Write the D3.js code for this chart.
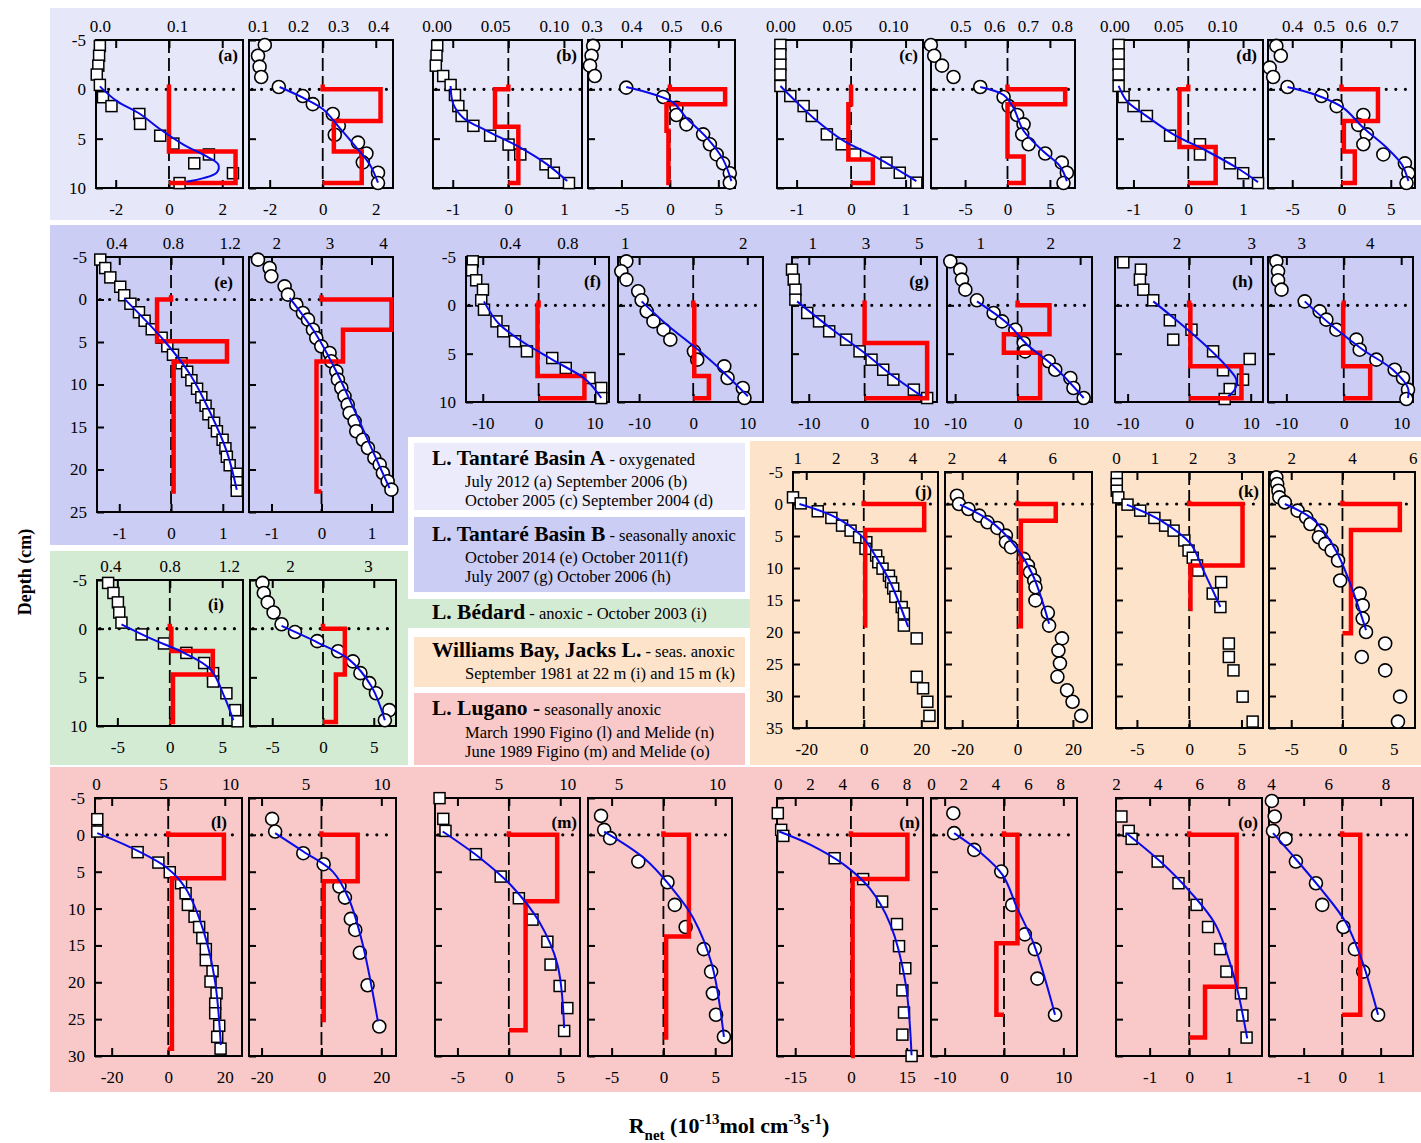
<!DOCTYPE html>
<html lang="en">
<head>
<meta charset="utf-8" />
<title>Rnet depth profiles</title>
<script src="https://cdn.jsdelivr.net/npm/d3@7"></script>
<style>
body{margin:0;background:#fff;}
</style>
</head>
<body>
<script>
// each half panel: ax = [concDomain, concLabels, rnetDomain, rnetLabels]
// pts/fit = [conc, depth], rnet = [zTop, zBottom, value]
var aL_ax = [[-0.005,0.185],["0.0","0.1"],[-2.74,2.78],["-2","0","2"]];
var aL_pts = [[0,-4.4],[-0.001,-3.4],[-0.002,-2.4],[-0.004,-1.5],[0,-0.45],[0.004,0.8],[0.015,1.7],[0.051,2.5],[0.052,3.5],[0.078,4.7],[0.095,5.5],[0.141,6.6],[0.122,7.5],[0.172,8.5],[0.103,9.5]];
var aL_fit = [[0,-0.3],[0.022,1.2],[0.052,2.5],[0.078,4.05],[0.108,5.6],[0.138,6.8],[0.153,7.6],[0.151,8.45],[0.134,9.0],[0.112,9.36]];
var aL_rnet = [[0,6.3,0],[6.3,9.5,2.5]];
var aR_ax = [[0.0775,0.4375],["0.1","0.2","0.3","0.4"],[-2.78,2.65],["-2","0","2"]];
var aR_pts = [[0.117,-4.5],[0.1,-3.4],[0.104,-2.3],[0.108,-1.25],[0.152,-0.24],[0.212,0.68],[0.237,1.5],[0.287,2.5],[0.302,3.7],[0.292,4.6],[0.35,5.4],[0.371,6.5],[0.362,7.4],[0.4,8.45],[0.4,9.5]];
var aR_fit = [[0.154,-0.24],[0.212,0.84],[0.262,2.0],[0.304,3.9],[0.346,5.9],[0.379,7.6],[0.4,9.46]];
var aR_rnet = [[0,3.2,2.18],[3.2,6.3,0.42],[6.3,9.5,1.47]];

var bL_ax = [[-0.003,0.124],["0.00","0.05","0.10"],[-1.355,1.325],["-1","0","1"]];
var bL_pts = [[0.0006,-4.4],[0,-3.4],[-0.0006,-2.4],[0.0057,-1.35],[0.012,-0.44],[0.0157,0.57],[0.0186,1.7],[0.0214,2.7],[0.0314,3.7],[0.0457,4.7],[0.0614,5.6],[0.0714,6.6],[0.0929,7.6],[0.1,8.45],[0.1129,9.5]];
var bL_fit = [[0.012,-0.34],[0.0143,1.5],[0.0229,2.9],[0.0429,4.2],[0.0714,5.9],[0.0943,7.6],[0.1114,9.3]];
var bL_rnet = [[0,3.8,-0.24],[3.8,9.5,0.18]];
var bR_ax = [[0.291,0.66],["0.3","0.4","0.5","0.6"],[-8.45,6.72],["-5","0","5"]];
var bR_pts = [[0.304,-4.4],[0.3,-3.4],[0.296,-2.4],[0.308,-1.35],[0.387,-0.17],[0.48,0.78],[0.513,1.86],[0.513,2.6],[0.538,3.55],[0.58,4.56],[0.597,5.57],[0.614,6.6],[0.63,7.5],[0.647,8.5],[0.647,9.46]];
var bR_fit = [[0.387,-0.24],[0.455,0.5],[0.505,1.35],[0.538,2.9],[0.589,4.9],[0.63,7.1],[0.651,9.3]];
var bR_rnet = [[0,1.5,5.7],[1.5,4.2,-0.35],[4.2,9.5,-0.15]];

var cL_ax = [[-0.003,0.1265],["0.00","0.05","0.10"],[-1.36,1.32],["-1","0","1"]];
var cL_pts = [[0,-4.5],[0,-3.55],[0,-2.5],[0,-1.5],[0,-0.34],[0.0088,0.68],[0.0206,1.7],[0.0279,2.7],[0.0412,4.56],[0.0544,5.57],[0.0662,6.6],[0.0941,7.43],[0.1059,8.45],[0.1206,9.46]];
var cL_fit = [[0,-0.34],[0.0118,1.0],[0.0294,2.9],[0.0559,5.2],[0.0853,6.9],[0.1206,9.3]];
var cL_rnet = [[0,1.5,0],[1.5,7.1,-0.05],[7.1,9.5,0.4]];
var cR_ax = [[0.4135,0.839],["0.5","0.6","0.7","0.8"],[-9.02,7.96],["-5","0","5"]];
var cR_pts = [[0.413,-4.5],[0.423,-3.4],[0.446,-2.4],[0.48,-1.25],[0.559,-0.24],[0.628,0.78],[0.643,1.7],[0.668,2.6],[0.687,3.55],[0.683,4.56],[0.702,5.57],[0.751,6.5],[0.8,7.43],[0.815,8.45],[0.805,9.5]];
var cR_fit = [[0.559,-0.24],[0.628,0.57],[0.657,1.86],[0.687,4.2],[0.746,6.3],[0.795,7.8],[0.815,9.3]];
var cR_rnet = [[0,1.5,6.8],[1.5,6.8,0],[6.8,9.5,1.9]];

var dL_ax = [[0.0025,0.1378],["0.00","0.05","0.10"],[-1.30,1.364],["-1","0","1"]];
var dL_pts = [[0.004,-4.5],[0.004,-3.55],[0.004,-2.5],[0.004,-1.5],[0.004,-0.34],[0.0086,0.78],[0.0178,1.7],[0.0302,2.7],[0.0517,4.7],[0.0794,5.57],[0.0794,6.6],[0.1071,7.5],[0.1194,8.5],[0.1332,9.5]];
var dL_fit = [[0.004,-0.34],[0.0117,1.2],[0.0271,2.5],[0.0548,4.56],[0.0857,6.25],[0.1135,7.95],[0.1332,9.4]];
var dL_rnet = [[0,5.85,-0.16],[5.85,9.5,0.5]];
var dR_ax = [[0.3237,0.7868],["0.4","0.5","0.6","0.7"],[-7.46,7.46],["-5","0","5"]];
var dR_pts = [[0.35,-4.4],[0.364,-3.4],[0.329,-2.2],[0.34,-1.25],[0.385,-0.24],[0.492,0.68],[0.54,1.7],[0.624,2.6],[0.608,3.6],[0.635,4.56],[0.624,5.57],[0.687,6.6],[0.755,7.5],[0.766,8.5],[0.76,9.5]];
var dR_fit = [[0.385,-0.24],[0.476,0.57],[0.56,1.86],[0.624,3.9],[0.697,5.9],[0.745,7.6],[0.766,9.3]];
var dR_rnet = [[0,3.2,3.7],[3.2,6.3,0.24],[6.3,9.5,1.35]];

var eL_ax = [[0.264,1.294],["0.4","0.8","1.2"],[-1.43,1.39],["-1","0","1"]];
var eL_pts = [[0.287,-4.7],[0.322,-3.7],[0.358,-2.6],[0.428,-1.5],[0.456,-0.5],[0.5,0.5],[0.56,1.5],[0.6,2.5],[0.65,3.5],[0.72,4.5],[0.76,5.5],[0.8,6.5],[0.86,7.5],[0.9,8.5],[0.93,9.5],[0.97,10.5],[1.0,11.5],[1.03,12.5],[1.05,13.5],[1.09,14.5],[1.11,15.5],[1.15,16.5],[1.17,17.5],[1.18,18.5],[1.2,19.5],[1.25,20.5],[1.25,21.5],[1.25,22.5]];
var eL_fit = [[0.456,-0.1],[0.746,5],[0.92,8.8],[1.06,13.2],[1.18,17.9],[1.25,22.4]];
var eL_rnet = [[0,4.9,-0.27],[4.9,7.3,1.08],[7.3,22.6,0.05]];
var eR_ax = [[1.4875,4.19],["2","3","4"],[-1.45,1.43],["-1","0","1"]];
var eR_pts = [[1.656,-4.69],[1.875,-3.71],[1.906,-2.73],[2.156,-1.55],[2.219,-0.57],[2.375,0.61],[2.5,1.59],[2.594,2.37],[2.6875,3.55],[2.75,4.53],[2.844,5.51],[3.0,6.29],[3.03,7.27],[3.125,8.45],[3.156,9.43],[3.22,10.41],[3.28,11.39],[3.34,12.37],[3.375,13.35],[3.47,14.33],[3.5,15.5],[3.625,16.5],[3.72,17.47],[3.84,18.65],[3.94,19.43],[4.0,20.41],[4.09,21.39],[4.16,22.37]];
var eR_fit = [[2.25,-0.18],[2.75,4.14],[3.125,8.45],[3.5,13.5],[3.84,18.25],[4.125,22.2]];
var eR_rnet = [[0,3.55,1.4],[3.55,7.3,0.43],[7.3,22.6,-0.1]];

var fL_ax = [[0.094,1.089],["0.4","0.8"],[-13.0,12.6],["-10","0","10"]];
var fL_pts = [[0.141,-4.55],[0.136,-3.62],[0.165,-2.59],[0.212,-1.62],[0.2,-0.52],[0.219,0.45],[0.306,1.66],[0.353,2.69],[0.435,3.72],[0.518,4.76],[0.694,5.45],[0.788,6.48],[0.953,7.52],[1.035,8.55],[1.035,9.59]];
var fL_fit = [[0.219,-0.41],[0.318,1.83],[0.482,3.72],[0.694,5.62],[0.929,7.69],[1.035,9.59]];
var fL_rnet = [[0,7.3,-0.2],[7.3,9.6,8.2]];
var fR_ax = [[0.943,2.171],["1","2"],[-13.9,12.9],["-10","0","10"]];
var fR_pts = [[1.014,-4.55],[0.971,-3.52],[1.014,-2.66],[1.114,-1.45],[1.143,-0.52],[1.186,0.62],[1.243,1.66],[1.329,2.52],[1.386,3.55],[1.586,4.76],[1.614,5.62],[1.843,6.31],[1.871,7.52],[2.0,8.55],[2.014,9.59]];
var fR_fit = [[1.143,-0.41],[1.357,2.0],[1.586,4.24],[1.814,6.66],[2.043,9.41]];
var fR_rnet = [[0,7.3,0.2],[7.3,9.6,2.9]];

var gL_ax = [[0.244,5.69],["1","3","5"],[-13.0,12.97],["-10","0","10"]];
var gL_pts = [[0.244,-3.69],[0.308,-2.66],[0.371,-1.62],[0.371,-0.59],[0.816,0.79],[1.26,1.66],[1.64,2.69],[2.276,3.55],[2.78,4.76],[3.23,5.62],[3.67,6.66],[4.05,7.69],[4.82,8.72],[5.32,9.59]];
var gL_fit = [[0.435,-0.41],[1.77,2.52],[2.97,4.93],[4.05,7.34],[5.13,9.41]];
var gL_rnet = [[0,3.9,0],[3.9,9.6,11.2]];
var gR_ax = [[0.524,2.595],["1","2"],[-11.3,11.9],["-10","0","10"]];
var gR_pts = [[0.571,-4.55],[0.714,-3.69],[0.738,-2.66],[0.786,-1.62],[0.952,-0.52],[1.19,0.79],[1.31,1.66],[1.5,2.52],[1.62,3.9],[1.64,4.76],[1.976,5.79],[2.07,6.66],[2.286,7.52],[2.33,8.55],[2.476,9.59]];
var gR_fit = [[0.952,-0.41],[1.38,1.83],[1.67,4.07],[2.05,6.31],[2.476,9.59]];
var gR_rnet = [[0,3.0,5.1],[3.0,4.9,-2.2],[4.9,9.6,3.6]];

var hL_ax = [[1.178,3.156],["2","3"],[-12.05,12.0],["-10","0","10"]];
var hL_pts = [[1.289,-4.45],[1.524,-3.69],[1.511,-2.66],[1.556,-1.62],[1.689,-0.52],[1.911,1.55],[2.2,2.52],[1.956,3.55],[2.489,4.76],[2.978,5.55],[2.622,6.72],[2.889,7.69],[2.711,8.66],[2.644,9.69]];
var hL_fit = [[1.689,-0.41],[2.044,1.83],[2.4,4.24],[2.667,6.31],[2.8,7.69],[2.778,8.72],[2.689,9.41]];
var hL_rnet = [[0,6.3,0.2],[6.3,9.6,8.5]];
var hR_ax = [[2.512,4.634],["3","4"],[-13.2,12.06],["-10","0","10"]];
var hR_pts = [[2.634,-4.55],[2.659,-3.52],[2.659,-2.59],[2.71,-1.62],[3.049,-0.41],[3.268,0.62],[3.366,1.48],[3.512,2.52],[3.805,3.55],[3.854,4.59],[4.098,5.62],[4.366,6.66],[4.488,7.52],[4.561,8.72],[4.537,9.69]];
var hR_fit = [[3.049,-0.41],[3.46,2.17],[3.9,4.59],[4.34,6.66],[4.56,8.55],[4.56,9.59]];
var hR_rnet = [[0,6.3,-0.1],[6.3,9.6,4.6]];

var iL_ax = [[0.31,1.295],["0.4","0.8","1.2"],[-6.94,6.98],["-5","0","5"]];
var iL_pts = [[0.385,-4.7],[0.421,-3.67],[0.451,-2.7],[0.46,-1.66],[0.475,-0.62],[0.611,0.59],[0.762,1.52],[0.913,2.49],[1.033,3.53],[1.093,4.57],[1.093,5.43],[1.183,6.64],[1.243,8.37],[1.258,9.52]];
var iL_fit = [[0.475,-0.45],[0.686,1.1],[0.897,2.49],[1.078,4.22],[1.169,6.99],[1.23,9.41]];
var iL_rnet = [[0,2.3,0.15],[2.3,4.7,4.1],[4.7,9.6,0.3]];
var iR_ax = [[1.486,3.36],["2","3"],[-7.19,7.19],["-5","0","5"]];
var iR_pts = [[1.646,-4.7],[1.663,-3.67],[1.714,-2.7],[1.789,-1.66],[1.891,-0.45],[2.063,0.35],[2.349,1.28],[2.617,2.32],[2.806,3.36],[2.903,4.57],[3.017,5.6],[3.103,6.64],[3.274,8.37],[3.217,9.41]];
var iR_fit = [[1.891,-0.28],[2.36,1.45],[2.76,3.18],[3.046,5.95],[3.217,9.41]];
var iR_rnet = [[0,4.7,2.15],[4.7,9.6,1.27]];

var jL_ax = [[0.889,4.667],["1","2","3","4"],[-24.6,25.8],["-20","0","20"]];
var jL_pts = [[0.889,-1.04],[1.089,-0.1],[1.533,1.14],[1.889,2.18],[2.167,3.38],[2.389,4.16],[2.611,5.19],[2.8,5.97],[2.778,7.0],[3.056,8.05],[3.111,9.1],[3.222,10.1],[3.389,11.2],[3.444,12.2],[3.5,13.2],[3.556,14.5],[3.722,16.1],[3.778,17.1],[3.778,19.0],[4.111,21.0],[4.111,27.0],[4.278,28.8],[4.389,30.9],[4.444,33.1]];
var jL_fit = [[1.056,0],[2.0,2.08],[2.667,4.94],[3.056,8.3],[3.444,12.5],[3.889,19.2]];
var jL_rnet = [[0,4.05,21],[4.05,19,0.5]];
var jR_ax = [[1.747,7.57],["2","4","6"],[-26.2,26.9],["-20","0","20"]];
var jR_pts = [[2.22,-1.3],[2.3,0],[2.675,0.78],[3.1,1.82],[3.43,2.86],[3.82,3.74],[4.16,4.94],[4.16,5.97],[4.36,6.75],[4.86,8.57],[5.03,9.6],[5.11,10.65],[5.28,11.95],[5.33,13.0],[5.33,15.06],[5.82,17.0],[5.87,19.0],[6.38,21.0],[6.24,22.9],[6.3,24.9],[6.2,27.0],[6.58,29.1],[6.8,30.9],[7.14,33.1]];
var jR_fit = [[2.34,0.1],[3.52,2.6],[4.45,6.2],[5.2,10.9],[5.87,18.7]];
var jR_rnet = [[0,2.6,13.8],[2.6,19.1,1.2]];

var kL_ax = [[0,3.83],["0","1","2","3"],[-7.0,7.06],["-5","0","5"]];
var kL_pts = [[0.02,-4.16],[0.02,-3.12],[0.02,-2.08],[0.06,-1.04],[0.3,0.1],[0.63,1.04],[1.0,2.18],[1.28,3.38],[1.5,4.16],[1.78,5.7],[1.89,7.27],[2.0,8.4],[2.11,9.6],[2.14,10.4],[2.74,12.2],[2.52,14.0],[2.72,16.1],[2.94,21.8],[2.94,23.9],[3.06,26.0],[3.3,30.1],[3.56,34.0]];
var kL_fit = [[0.28,0.1],[1.17,2.6],[1.94,6.2],[2.28,10.4],[2.72,16.1]];
var kL_rnet = [[0,9.6,5.1],[9.6,16.4,0.12]];
var kR_ax = [[1.27,6.07],["2","4","6"],[-7.17,7.08],["-5","0","5"]];
var kR_pts = [[1.51,-4.16],[1.54,-3.12],[1.58,-2.08],[1.61,-1.04],[1.79,-0.26],[2.21,1.04],[2.49,2.08],[2.63,3.12],[2.98,4.16],[2.91,5.19],[3.12,6.23],[3.33,7.27],[3.54,8.83],[3.61,11.95],[4.25,14.0],[4.35,15.84],[4.35,17.9],[4.46,20.0],[5.09,21.8],[4.32,23.9],[5.09,26.0],[5.58,30.1],[5.51,34.0]];
var kR_fit = [[1.79,0],[2.77,2.6],[3.47,7.27],[3.9,11.95],[4.46,19.7]];
var kR_rnet = [[0,4.05,5.6],[4.05,20.2,0.83]];

var lL_ax = [[-0.07,10.9],["0","5","10"],[-25.9,26.1],["-20","0","20"]];
var lL_pts = [[0.1,-2.13],[0.1,-0.45],[3.11,2.35],[4.66,3.76],[5.51,5.07],[6.35,6.56],[6.69,7.92],[6.86,9.5],[7.36,11.1],[7.7,12.5],[7.94,14.0],[8.2,15.5],[8.2,17.0],[8.7,18.5],[8.55,19.9],[9.0,21.5],[8.9,22.9],[8.9,24.2],[9.2,25.9],[9.05,27.4],[9.3,29.0]];
var lL_fit = [[0.1,-0.23],[2.97,2.04],[5.34,4.52],[6.69,7.24],[8.04,13.1],[8.89,19.9],[9.32,28.5]];
var lL_rnet = [[0,5.9,19.7],[5.9,29,1.3]];
var lR_ax = [[1.28,10.95],["5","10"],[-24.2,24.9],["-20","0","20"]];
var lR_pts = [[2.8,-2.17],[3.0,-0.45],[4.85,2.49],[6.19,3.98],[7.23,7.01],[7.59,8.51],[7.98,11.4],[8.27,12.9],[8.57,16.0],[9.08,20.4],[9.85,26.0]];
var lR_fit = [[3.0,-0.23],[4.85,2.26],[6.79,4.98],[7.83,8.6],[8.72,14.5],[9.76,25.3]];
var lR_rnet = [[0,6.3,12.1],[6.3,25.1,0.75]];

var mL_ax = [[0.39,10.92],["5","10"],[-7.18,6.92],["-5","0","5"]];
var mL_pts = [[0.72,-4.98],[0.99,-2.17],[1.15,-0.54],[3.36,2.62],[5.16,5.66],[6.48,8.6],[7.47,11.5],[8.55,14.5],[8.78,17.6],[9.44,20.5],[10.0,23.5],[9.77,26.6]];
var mL_fit = [[0.95,-0.45],[3.68,3.17],[5.99,7.0],[7.96,11.8],[9.28,17.6],[9.77,26.2]];
var mL_rnet = [[0,9.0,4.7],[9.0,26.5,1.63]];
var mR_ax = [[3.46,10.76],["5","10"],[-7.28,6.62],["-5","0","5"]];
var mR_pts = [[4.12,-2.58],[4.28,-0.68],[4.58,0.45],[6.01,3.62],[7.49,6.43],[7.86,9.5],[8.41,12.5],[9.33,15.5],[9.7,18.55],[9.79,21.5],[9.95,24.4],[10.35,27.4]];
var mR_fit = [[4.28,-0.45],[6.31,3.17],[7.72,7.24],[8.8,11.3],[9.74,17.6],[10.35,27.4]];
var mR_rnet = [[0,13.8,2.46],[13.8,27.5,0.26]];

var nL_ax = [[-0.05,9.02],["0","2","4","6","8"],[-19.9,19.4],["-15","0","15"]];
var nL_pts = [[0,-2.94],[0.21,-0.68],[0.34,0.14],[3.53,3.17],[5.3,6.0],[6.48,9.05],[7.4,12.1],[7.53,15.1],[7.92,18.1],[7.74,21.1],[7.84,24.1],[7.74,27.1],[8.31,30.0]];
var nL_fit = [[0.08,-0.45],[2.04,1.36],[4.13,4.07],[5.7,7.24],[7.0,12.2],[7.92,19.9],[8.31,29.9]];
var nL_rnet = [[0,6.0,15.2],[6.0,30,0.45]];
var nR_ax = [[0,9.04],["0","2","4","6","8"],[-12.3,12.3],["-10","0","10"]];
var nR_pts = [[1.38,-2.94],[1.43,-0.23],[2.68,2.04],[4.35,4.98],[5.03,9.5],[5.81,13.5],[6.43,15.5],[6.59,19.5],[7.68,24.4]];
var nR_fit = [[1.43,-0.23],[2.99,2.26],[4.43,5.43],[5.34,9.95],[6.38,14.9],[7.68,24.4]];
var nR_rnet = [[0,14.7,2.27],[14.7,24.4,-1.28]];

var oL_ax = [[2,9.01],["2","4","6","8"],[-1.85,1.84],["-1","0","1"]];
var oL_pts = [[2.26,-2.49],[2.61,-0.54],[2.75,0.54],[4.0,3.62],[5.0,6.56],[5.87,9.5],[6.42,12.5],[7.0,15.5],[7.3,18.55],[8.0,21.5],[8.07,24.5],[8.27,27.5]];
var oL_fit = [[2.5,-0.23],[4.13,3.62],[5.55,7.7],[6.78,12.2],[7.69,19.5],[8.3,27.6]];
var oL_rnet = [[0,20.6,1.2],[20.6,27.5,0.4]];
var oR_ax = [[3.93,8.96],["4","6","8"],[-1.9,1.84],["-1","0","1"]];
var oR_pts = [[4.03,-4.6],[4.13,-2.49],[4.07,-0.54],[4.51,0.54],[4.87,3.62],[5.57,6.56],[5.79,9.5],[6.53,12.5],[6.93,15.5],[7.22,18.55],[7.74,24.4]];
var oR_fit = [[4.07,-0.23],[4.84,3.17],[5.72,7.24],[6.6,11.8],[7.19,17.2],[7.74,24.4]];
var oR_rnet = [[0,24.4,0.47]];

var depth10 = [-5,0,5,10];
var depth25 = [-5,0,5,10,15,20,25];
var depth30 = [-5,0,5,10,15,20,25,30];
var depth35 = [-5,0,5,10,15,20,25,30,35];

var legendTitles = ["L. Tantaré Basin A","L. Tantaré Basin B","L. Bédard","Williams Bay, Jacks L.","L. Lugano -"];
var legendNotes = [" - oxygenated"," - seasonally anoxic"," - anoxic - October 2003 (i)"," - seas. anoxic"," seasonally anoxic"];
var legendLines = [
	["July 2012 (a) September 2006 (b)","October 2005 (c) September 2004 (d)"],
	["October 2014 (e) October 2011(f)","July 2007 (g) October 2006 (h)"],
	[],
	["September 1981 at 22 m (i) and 15 m (k)"],
	["March 1990 Figino (l) and Melide (n)","June 1989 Figino (m) and Melide (o)"]
];

// ---------- layout ----------
var FONT = '"Liberation Serif","Times New Roman",serif';
var cLav = '#e7e7fa', cBlue = '#cbcdf5', cGreen = '#d3ead3', cOrange = '#fde3c9', cPink = '#f9c9c9';
var bgBoxes = [
	[50,8,1421,220,cLav],[50,225,1421,437,cBlue],[50,437,408,545,cBlue],
	[414,443,745,510,'#ebebfb'],[414,517,745,592,cBlue],
	[50,551,408,765,cGreen],[408,599,750,628,cGreen],
	[750,441,1421,765,cOrange],[414,637,745,687,cOrange],
	[414,693,745,765,cPink],[50,767,1421,1092,cPink]
];
var legendY = [[465,487,506],[541,563,582],[619],[657,679],[715,738,757]];

var pairs = [
	{tag:'(a)',L:[aL_ax,aL_pts,aL_fit,aL_rnet],R:[aR_ax,aR_pts,aR_fit,aR_rnet],xL:[96,243],xR:[249,393],y:[40,188],dom:[-5,10],dt:depth10,lab:true,off:[5,21]},
	{tag:'(b)',L:[bL_ax,bL_pts,bL_fit,bL_rnet],R:[bR_ax,bR_pts,bR_fit,bR_rnet],xL:[433,582],xR:[588,735],y:[40,188],dom:[-5,10],dt:depth10,lab:false,off:[5,21]},
	{tag:'(c)',L:[cL_ax,cL_pts,cL_fit,cL_rnet],R:[cR_ax,cR_pts,cR_fit,cR_rnet],xL:[777,923],xR:[931,1075],y:[40,188],dom:[-5,10],dt:depth10,lab:false,off:[5,21]},
	{tag:'(d)',L:[dL_ax,dL_pts,dL_fit,dL_rnet],R:[dR_ax,dR_pts,dR_fit,dR_rnet],xL:[1117,1263],xR:[1268,1415],y:[40,188],dom:[-5,10],dt:depth10,lab:false,off:[6,21]},
	{tag:'(e)',L:[eL_ax,eL_pts,eL_fit,eL_rnet],R:[eR_ax,eR_pts,eR_fit,eR_rnet],xL:[97,243],xR:[249,393],y:[257,512],dom:[-5,25],dt:depth25,lab:true,off:[10,31]},
	{tag:'(f)',L:[fL_ax,fL_pts,fL_fit,fL_rnet],R:[fR_ax,fR_pts,fR_fit,fR_rnet],xL:[466,609],xR:[618,763],y:[257,402],dom:[-5,10],dt:depth10,lab:true,off:[8,30]},
	{tag:'(g)',L:[gL_ax,gL_pts,gL_fit,gL_rnet],R:[gR_ax,gR_pts,gR_fit,gR_rnet],xL:[792,937],xR:[947,1092],y:[257,402],dom:[-5,10],dt:depth10,lab:false,off:[8,30]},
	{tag:'(h)',L:[hL_ax,hL_pts,hL_fit,hL_rnet],R:[hR_ax,hR_pts,hR_fit,hR_rnet],xL:[1115,1263],xR:[1268,1413],y:[257,402],dom:[-5,10],dt:depth10,lab:false,off:[10,30]},
	{tag:'(i)',L:[iL_ax,iL_pts,iL_fit,iL_rnet],R:[iR_ax,iR_pts,iR_fit,iR_rnet],xL:[97,243],xR:[250,396],y:[580,726],dom:[-5,10],dt:depth10,lab:true,off:[19,30]},
	{tag:'(j)',L:[jL_ax,jL_pts,jL_fit,jL_rnet],R:[jR_ax,jR_pts,jR_fit,jR_rnet],xL:[793,938],xR:[945,1092],y:[472,728],dom:[-5,35],dt:depth35,lab:true,off:[6,25]},
	{tag:'(k)',L:[kL_ax,kL_pts,kL_fit,kL_rnet],R:[kR_ax,kR_pts,kR_fit,kR_rnet],xL:[1116,1263],xR:[1269,1415],y:[472,728],dom:[-5,35],dt:depth35,lab:false,off:[4,25]},
	{tag:'(l)',L:[lL_ax,lL_pts,lL_fit,lL_rnet],R:[lR_ax,lR_pts,lR_fit,lR_rnet],xL:[95,242],xR:[249,396],y:[798,1056],dom:[-5,30],dt:depth30,lab:true,off:[15,30]},
	{tag:'(m)',L:[mL_ax,mL_pts,mL_fit,mL_rnet],R:[mR_ax,mR_pts,mR_fit,mR_rnet],xL:[435,580],xR:[588,732],y:[798,1056],dom:[-5,30],dt:depth30,lab:false,off:[3,30]},
	{tag:'(n)',L:[nL_ax,nL_pts,nL_fit,nL_rnet],R:[nR_ax,nR_pts,nR_fit,nR_rnet],xL:[777,923],xR:[931,1077],y:[798,1056],dom:[-5,30],dt:depth30,lab:false,off:[3,30]},
	{tag:'(o)',L:[oL_ax,oL_pts,oL_fit,oL_rnet],R:[oR_ax,oR_pts,oR_fit,oR_rnet],xL:[1116,1262],xR:[1269,1413],y:[798,1056],dom:[-5,30],dt:depth30,lab:false,off:[4,30]}
];

var svg = d3.select('body').append('svg')
	.attr('width',1421)
	.attr('height',1143)
	.style('font-family',FONT);

bgBoxes.forEach(function(b) {
	svg.append('rect').attr('x',b[0]).attr('y',b[1]).attr('width',b[2]-b[0]).attr('height',b[3]-b[1]).attr('fill',b[4]);
});

function stepPoints(rnet) {
	var p = [[0, rnet[0][0]-0.5],[0, rnet[0][0]]];
	rnet.forEach(function(z) { p.push([z[2], z[0]], [z[2], z[1]]); });
	p.push([0, rnet[rnet.length-1][1]]);
	return p;
}

function drawHalf(pr, half, xs, isLeft) {
	var ax = half[0], pts = half[1], fit = half[2], rnet = half[3];
	var x0 = xs[0], x1 = xs[1], y0 = pr.y[0], y1 = pr.y[1];
	var y = d3.scaleLinear().domain(pr.dom).range([y0, y1]);
	var xc = d3.scaleLinear().domain(ax[0]).range([x0, x1]);
	var xr = d3.scaleLinear().domain(ax[2]).range([x0, x1]);
	var g = svg.append('g');

	// zero line of Rnet and sediment surface
	g.append('line').attr('x1',xr(0)).attr('x2',xr(0)).attr('y1',y0).attr('y2',y1)
		.attr('stroke','#000').attr('stroke-width',1.8).attr('stroke-dasharray','13,5');
	g.append('line').attr('x1',x0+3).attr('x2',x1).attr('y1',y(0)).attr('y2',y(0))
		.attr('stroke','#000').attr('stroke-width',3.2).attr('stroke-linecap','round').attr('stroke-dasharray','0,9.6');

	var rVals = ax[3].map(Number), cVals = ax[1].map(Number);
	g.append('g').attr('transform','translate(0,'+y1+')')
		.call(d3.axisBottom(xr).tickValues(rVals).tickFormat(function(d,i){return ax[3][i];}).tickSizeInner(-8).tickSizeOuter(0).tickPadding(15));
	g.append('g').attr('transform','translate(0,'+y0+')')
		.call(d3.axisTop(xr).tickValues(rVals).tickFormat(function(){return '';}).tickSizeInner(-8).tickSizeOuter(0));
	g.append('g').attr('transform','translate(0,'+y0+')')
		.call(d3.axisTop(xc).tickValues(cVals).tickFormat(function(d,i){return ax[1][i];}).tickSize(0).tickPadding(8));
	var showY = isLeft && pr.lab;
	g.append('g').attr('transform','translate('+x0+',0)')
		.call(d3.axisLeft(y).tickValues(pr.dt).tickFormat(function(d){return showY ? String(d) : '';}).tickSizeInner(-7).tickSizeOuter(0).tickPadding(10));
	g.selectAll('.domain').remove();
	g.selectAll('.tick line').attr('stroke','#000').attr('stroke-width',2);
	g.selectAll('.tick text').attr('font-size',17).attr('font-family',FONT).attr('fill','#000');

	g.append('rect').attr('x',x0).attr('y',y0).attr('width',x1-x0).attr('height',y1-y0)
		.attr('fill','none').attr('stroke','#000').attr('stroke-width',2);

	if (isLeft) {
		g.selectAll('rect.pt').data(pts).join('rect').attr('class','pt')
			.attr('x',function(d){return xc(d[0])-5.5;}).attr('y',function(d){return y(d[1])-5.5;})
			.attr('width',11).attr('height',11)
			.attr('fill','#fff').attr('stroke','#000').attr('stroke-width',1.5);
	} else {
		g.selectAll('circle.pt').data(pts).join('circle').attr('class','pt')
			.attr('cx',function(d){return xc(d[0]);}).attr('cy',function(d){return y(d[1]);}).attr('r',6.5)
			.attr('fill','#fff').attr('stroke','#000').attr('stroke-width',1.6);
	}

	g.append('path').datum(stepPoints(rnet))
		.attr('d', d3.line().x(function(d){return xr(d[0]);}).y(function(d){return y(d[1]);}))
		.attr('fill','none').attr('stroke','#ff0000').attr('stroke-width',4.5).attr('stroke-linejoin','miter');
	g.append('path').datum(fit)
		.attr('d', d3.line().x(function(d){return xc(d[0]);}).y(function(d){return y(d[1]);}).curve(d3.curveCatmullRom.alpha(0.5)))
		.attr('fill','none').attr('stroke','#0a0ae6').attr('stroke-width',2);

	if (isLeft) {
		g.append('text').attr('x',x1-pr.off[0]).attr('y',y0+pr.off[1]).attr('text-anchor','end')
			.attr('font-size',17).attr('font-weight','bold').text(pr.tag);
	}
}

pairs.forEach(function(pr) {
	drawHalf(pr, pr.L, pr.xL, true);
	drawHalf(pr, pr.R, pr.xR, false);
});

// legend
legendTitles.forEach(function(t, i) {
	var tx = svg.append('text').attr('x',432).attr('y',legendY[i][0]);
	tx.append('tspan').attr('font-size',21.5).attr('font-weight','bold').text(t);
	tx.append('tspan').attr('font-size',16.5).text(legendNotes[i]);
	legendLines[i].forEach(function(s, j) {
		svg.append('text').attr('x',465).attr('y',legendY[i][j+1]).attr('font-size',16.5).text(s);
	});
});

// axis titles
svg.append('text').attr('transform','translate(31,572) rotate(-90)').attr('text-anchor','middle')
	.attr('font-size',18).attr('font-weight','bold').text('Depth (cm)');

var xt = svg.append('text').attr('x',729).attr('y',1133).attr('text-anchor','middle')
	.attr('font-size',22).attr('font-weight','bold');
xt.append('tspan').text('R');
xt.append('tspan').attr('font-size',15).attr('dy',7).text('net');
xt.append('tspan').attr('dy',-7).text(' (10');
xt.append('tspan').attr('font-size',15).attr('dy',-9).text('-13');
xt.append('tspan').attr('dy',9).text('mol cm');
xt.append('tspan').attr('font-size',15).attr('dy',-9).text('-3');
xt.append('tspan').attr('dy',9).text('s');
xt.append('tspan').attr('font-size',15).attr('dy',-9).text('-1');
xt.append('tspan').attr('dy',9).text(')');
</script>
</body>
</html>
